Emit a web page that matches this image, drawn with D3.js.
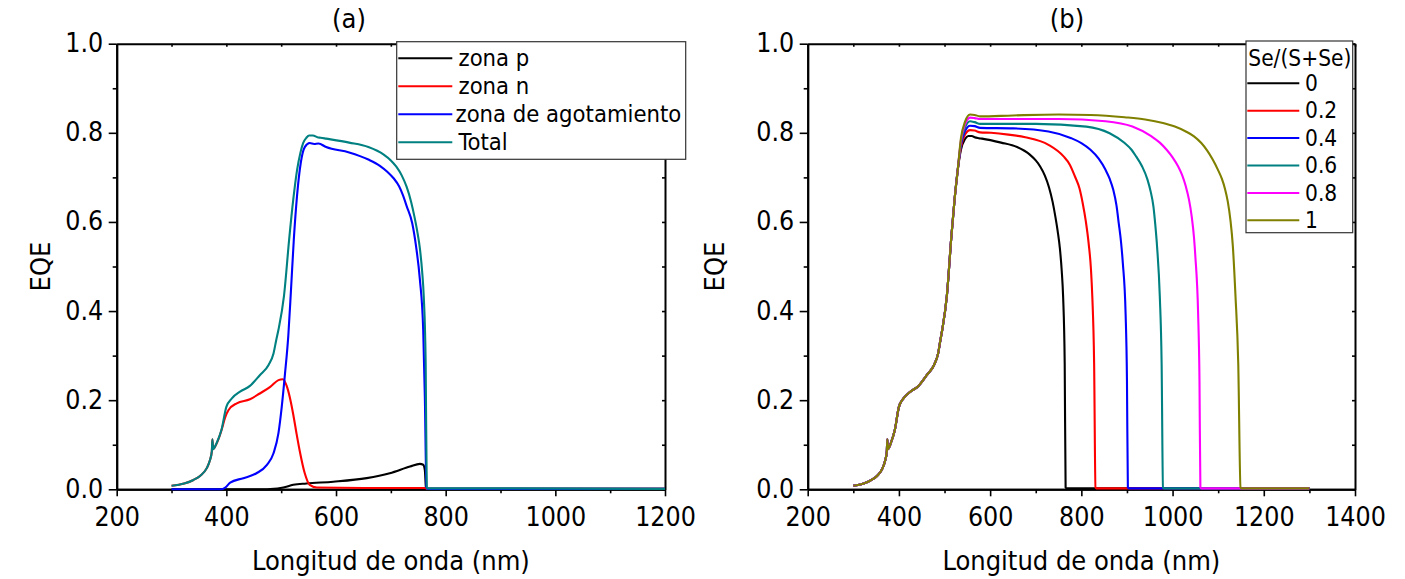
<!DOCTYPE html>
<html>
<head>
<meta charset="utf-8">
<script src="https://cdn.jsdelivr.net/npm/d3@7"></script>
<style>
  body { margin: 0; background: #fff; }
  svg text { font-family: "DejaVu Sans Condensed", "DejaVu Sans", sans-serif; font-stretch: condensed; fill: #000; }
</style>
</head>
<body>
<svg id="fig" width="1405" height="579"></svg>
<script>
// ---------- Panel (a): EQE contributions of each region ----------
const seriesNamesA = ["zona p", "zona n", "zona de agotamiento", "Total"];
const seriesColorsA = ["#000000", "#ff0000", "#0000ff", "#008080"];

const waveP = [300, 470, 480, 504, 522, 546, 595, 656, 698, 735, 753, 759, 762, 764, 766, 900, 1200];
const eqeP  = [0, 0, 0.0005, 0.004, 0.010, 0.013, 0.017, 0.025, 0.036, 0.051, 0.057, 0.055, 0.043, 0.004, 0.001, 0.001, 0.001];

const waveN = [300, 323, 340, 352, 364, 370, 373.5, 374.5, 376, 378, 382, 391, 398, 404, 419, 443, 461, 480, 495, 503, 510, 516, 522, 528, 534, 543, 552, 565, 650, 763, 765, 1200];
const eqeN  = [0.008, 0.013, 0.021, 0.030, 0.047, 0.065, 0.085, 0.112, 0.090, 0.093, 0.102, 0.132, 0.162, 0.178, 0.193, 0.202, 0.215, 0.230, 0.245, 0.247, 0.232, 0.205, 0.168, 0.125, 0.085, 0.036, 0.010, 0.004, 0.003, 0.003, 0.001, 0.001];

const waveDep = [300, 390, 398, 407, 431, 455, 474, 486, 495, 501, 507, 513, 518, 523, 529, 536, 543, 552, 560, 568, 582, 624, 659, 680, 694, 705, 715, 722, 729, 739, 746, 753, 759, 762, 765, 767, 1200];
const eqeDep  = [0, 0, 0.004, 0.015, 0.025, 0.036, 0.055, 0.081, 0.126, 0.185, 0.26, 0.345, 0.45, 0.56, 0.66, 0.735, 0.768, 0.777, 0.775, 0.776, 0.768, 0.756, 0.740, 0.726, 0.712, 0.698, 0.680, 0.660, 0.635, 0.597, 0.545, 0.470, 0.358, 0.208, 0.004, 0.001, 0.001];

const waveTot = [300, 323, 340, 352, 364, 370, 373.5, 374.5, 376, 378, 382, 391, 400, 410, 425, 443, 461, 477, 486, 491, 495, 505, 515, 522, 529, 535, 540, 546, 551, 558, 566, 572, 582, 624, 659, 687, 700, 710, 720, 729, 737, 743, 748, 753, 757, 760, 763.5, 765.5, 768, 900, 1200];
const eqeTot  = [0.008, 0.013, 0.021, 0.030, 0.047, 0.065, 0.085, 0.112, 0.090, 0.093, 0.103, 0.133, 0.185, 0.204, 0.219, 0.232, 0.256, 0.279, 0.305, 0.335, 0.358, 0.433, 0.567, 0.650, 0.717, 0.755, 0.777, 0.789, 0.794, 0.794, 0.790, 0.789, 0.787, 0.778, 0.768, 0.751, 0.738, 0.724, 0.704, 0.678, 0.645, 0.612, 0.580, 0.540, 0.490, 0.433, 0.283, 0.004, 0.002, 0.002, 0.001];

// ---------- Panel (b): total EQE vs. Se/(S+Se) ratio ----------
const ratioLabels = ["0", "0.2", "0.4", "0.6", "0.8", "1"];
const ratioColors = ["#000000", "#ff0000", "#0000ff", "#008080", "#ff00ff", "#808000"];

// absorption onset shared by all compositions
const riseWave = [300, 323, 340, 352, 364, 370, 373.5, 374.5, 376, 378, 382, 391, 400, 410, 425, 443, 461, 477, 486, 491, 495, 505, 515, 522, 529];
const riseEQE  = [0.008, 0.013, 0.021, 0.030, 0.047, 0.065, 0.085, 0.112, 0.090, 0.093, 0.103, 0.133, 0.185, 0.204, 0.219, 0.232, 0.256, 0.279, 0.305, 0.335, 0.358, 0.433, 0.567, 0.650, 0.717];

const tailWave0 = [536, 545, 552, 560, 566, 575, 582, 624, 659, 687, 700, 710, 720, 729, 737, 743, 748, 753, 757, 760, 763.5, 765.5, 768, 1300];
const tailEQE0  = [0.762, 0.786, 0.793, 0.793, 0.790, 0.788, 0.787, 0.778, 0.768, 0.751, 0.738, 0.724, 0.704, 0.678, 0.645, 0.612, 0.580, 0.540, 0.490, 0.433, 0.283, 0.004, 0.002, 0.002];

const tailWave02 = [536, 545, 556, 566, 578, 602, 640, 677, 728, 761, 775, 786, 796, 803, 810, 816, 821, 824, 828, 831, 833, 1300];
const tailEQE02  = [0.768, 0.796, 0.806, 0.805, 0.801, 0.800, 0.796, 0.790, 0.773, 0.747, 0.728, 0.702, 0.675, 0.642, 0.600, 0.552, 0.495, 0.433, 0.283, 0.004, 0.002, 0.002];

const tailWave04 = [536, 545, 556, 566, 578, 650, 728, 778, 800, 820, 838, 853, 862, 870, 877, 882, 887, 891, 897, 900, 902, 904, 1300];
const tailEQE04  = [0.773, 0.804, 0.816, 0.815, 0.811, 0.810, 0.803, 0.788, 0.777, 0.762, 0.742, 0.717, 0.697, 0.672, 0.637, 0.597, 0.555, 0.507, 0.395, 0.246, 0.004, 0.002, 0.002];

const tailWave06 = [536, 545, 556, 566, 578, 700, 811, 862, 895, 910, 920, 933, 945, 952, 958, 962, 966, 972, 976, 979, 981, 1300];
const tailEQE06  = [0.778, 0.812, 0.826, 0.824, 0.820, 0.820, 0.814, 0.799, 0.777, 0.762, 0.747, 0.725, 0.695, 0.668, 0.635, 0.595, 0.545, 0.433, 0.283, 0.004, 0.002, 0.002];

const tailWave08 = [536, 545, 556, 566, 578, 750, 853, 912, 954, 972, 987, 1000, 1012, 1021, 1029, 1036, 1042, 1047, 1050, 1056, 1059, 1061, 1063, 1300];
const tailEQE08  = [0.783, 0.819, 0.834, 0.833, 0.831, 0.831, 0.826, 0.814, 0.792, 0.778, 0.762, 0.745, 0.725, 0.705, 0.680, 0.650, 0.612, 0.565, 0.522, 0.395, 0.246, 0.004, 0.002, 0.002];

const tailWave1 = [536, 545, 556, 566, 578, 650, 750, 820, 895, 940, 979, 1005, 1029, 1047, 1063, 1076, 1088, 1099, 1108, 1115, 1121, 1127, 1132, 1138, 1144, 1149, 1151, 1300];
const tailEQE1  = [0.788, 0.825, 0.841, 0.840, 0.837, 0.839, 0.841, 0.840, 0.835, 0.830, 0.822, 0.814, 0.803, 0.792, 0.777, 0.760, 0.740, 0.718, 0.697, 0.674, 0.646, 0.603, 0.548, 0.433, 0.283, 0.004, 0.002, 0.002];

// ---------- Axis ticks ----------
const yMajor = [0, 0.2, 0.4, 0.6, 0.8, 1.0];
const yMinor = [0.1, 0.3, 0.5, 0.7, 0.9];
const xMajorA = [200, 400, 600, 800, 1000, 1200];
const xMinorA = [300, 500, 700, 900, 1100];
const xMajorB = [200, 400, 600, 800, 1000, 1200, 1400];
const xMinorB = [300, 500, 700, 900, 1100, 1300];

const xTitle = "Longitud de onda (nm)";
const yTitle = "EQE";
const legendTitleB = "Se/(S+Se)";

// ---------- drawing ----------
const svg = d3.select("#fig");
const zip = (xs, ys) => xs.map((v, i) => [v, ys[i]]);

const plotTop = 43.7, plotBottom = 489.3;

function drawPanel(opt) {
  const g = svg.append("g");
  const x = d3.scaleLinear().domain(opt.xDomain).range([opt.left, opt.right]);
  const y = d3.scaleLinear().domain([0, 1]).range([plotBottom, plotTop]);

  const styleAxis = sel => {
    sel.select(".domain").attr("stroke", "#000").attr("stroke-width", 2);
    sel.selectAll(".tick line").attr("stroke", "#000").attr("stroke-width", 1.6);
    sel.selectAll(".tick text").style("font-size", "26.5px");
  };

  // bottom axis, major + minor
  g.append("g").attr("transform", `translate(0,${plotBottom})`)
    .call(d3.axisBottom(x).tickValues(opt.xMajor).tickFormat(d3.format("d")).tickSize(7).tickPadding(11).tickSizeOuter(0))
    .call(styleAxis);
  g.append("g").attr("transform", `translate(0,${plotBottom})`)
    .call(d3.axisBottom(x).tickValues(opt.xMinor).tickFormat("").tickSize(4).tickSizeOuter(0))
    .call(styleAxis);
  // top axis, inward ticks
  g.append("g").attr("transform", `translate(0,${plotTop})`)
    .call(d3.axisTop(x).tickValues(opt.xMajor.concat(opt.xMinor)).tickFormat("").tickSize(-3).tickSizeOuter(0))
    .call(styleAxis);
  // left axis
  g.append("g").attr("transform", `translate(${opt.left},0)`)
    .call(d3.axisLeft(y).tickValues(yMajor).tickFormat(d3.format(".1f")).tickSize(8).tickPadding(5.5).tickSizeOuter(0))
    .call(styleAxis)
    .selectAll(".tick text").attr("dy", "0.3em");
  g.append("g").attr("transform", `translate(${opt.left},0)`)
    .call(d3.axisLeft(y).tickValues(yMinor).tickFormat("").tickSize(4).tickSizeOuter(0))
    .call(styleAxis);
  // right axis, inward ticks
  g.append("g").attr("transform", `translate(${opt.right},0)`)
    .call(d3.axisRight(y).tickValues(yMajor.concat(yMinor)).tickFormat("").tickSize(-3).tickSizeOuter(0))
    .call(styleAxis);

  // curves
  const line = d3.line().x(d => x(d[0])).y(d => y(d[1])).curve(d3.curveMonotoneX);
  opt.series.forEach(s => {
    g.append("path").datum(s.points)
      .attr("fill", "none").attr("stroke", s.color)
      .attr("stroke-width", 2.1).attr("stroke-linejoin", "round")
      .attr("d", line);
  });

  // titles
  const cx = (opt.left + opt.right) / 2;
  g.append("text").attr("x", cx).attr("y", 570).attr("text-anchor", "middle")
    .style("font-size", "27px").text(xTitle);
  g.append("text").attr("transform", `translate(${opt.yTitleX},${(plotTop + plotBottom) / 2}) rotate(-90)`)
    .attr("text-anchor", "middle").style("font-size", "27px").text(yTitle);
  g.append("text").attr("x", opt.panelX).attr("y", 28).attr("text-anchor", "middle")
    .style("font-size", "27px").text(opt.panelLabel);
  return g;
}

drawPanel({
  xDomain: [200, 1200], left: 116.7, right: 665,
  xMajor: xMajorA, xMinor: xMinorA,
  yTitleX: 50, panelX: 349, panelLabel: "(a)",
  series: [
    { color: seriesColorsA[0], points: zip(waveP, eqeP) },
    { color: seriesColorsA[1], points: zip(waveN, eqeN) },
    { color: seriesColorsA[2], points: zip(waveDep, eqeDep) },
    { color: seriesColorsA[3], points: zip(waveTot, eqeTot) }
  ]
});

const tailsW = [tailWave0, tailWave02, tailWave04, tailWave06, tailWave08, tailWave1];
const tailsE = [tailEQE0, tailEQE02, tailEQE04, tailEQE06, tailEQE08, tailEQE1];
drawPanel({
  xDomain: [200, 1400], left: 807.7, right: 1355,
  xMajor: xMajorB, xMinor: xMinorB,
  yTitleX: 724, panelX: 1067, panelLabel: "(b)",
  series: ratioColors.map((c, i) => ({
    color: c,
    points: zip(riseWave, riseEQE).concat(zip(tailsW[i], tailsE[i]))
  }))
});

// ---------- legends ----------
const legA = svg.append("g");
legA.append("rect").attr("x", 396.7).attr("y", 41.7).attr("width", 289).attr("height", 117.6)
  .attr("fill", "#fff").attr("stroke", "#333").attr("stroke-width", 1.2);
seriesNamesA.forEach((name, i) => {
  const cy = 58.3 + i * 28;
  legA.append("line").attr("x1", 398.3).attr("x2", 452.3).attr("y1", cy).attr("y2", cy)
    .attr("stroke", seriesColorsA[i]).attr("stroke-width", 2);
  legA.append("text").attr("x", i === 2 ? 455.5 : 458.5).attr("y", cy + 7.8)
    .style("font-size", "23.6px").text(name);
});

const legB = svg.append("g");
legB.append("rect").attr("x", 1246).attr("y", 41).attr("width", 106.7).attr("height", 191.7)
  .attr("fill", "#fff").attr("stroke", "#333").attr("stroke-width", 1.2);
legB.append("text").attr("x", 1248.3).attr("y", 65.7).style("font-size", "22.5px").text(legendTitleB);
ratioLabels.forEach((lab, i) => {
  const cy = 83.3 + i * 27.4;
  legB.append("line").attr("x1", 1247.3).attr("x2", 1299.3).attr("y1", cy).attr("y2", cy)
    .attr("stroke", ratioColors[i]).attr("stroke-width", 2);
  legB.append("text").attr("x", 1305).attr("y", cy + 7.7).style("font-size", "22.5px").text(lab);
});
</script>
</body>
</html>
